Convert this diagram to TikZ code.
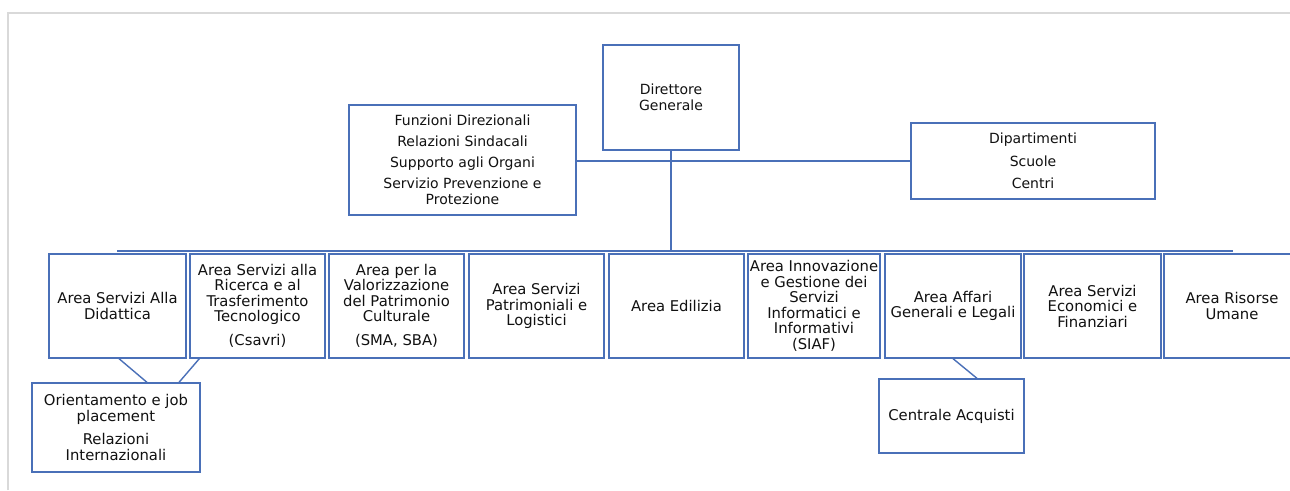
\documentclass[tikz,border=0pt]{standalone}
\usepackage{fontspec}
\setmainfont{DejaVu Sans}
\definecolor{boxblue}{HTML}{4A70B8}
\definecolor{framegray}{HTML}{D9D9D9}
\definecolor{txt}{HTML}{111111}
\tikzset{
  orgbox/.style={draw=boxblue, line width=1.3pt, inner sep=0pt, align=center, text=txt, fill=white},
  topfont/.style={font=\fontsize{14}{16}\selectfont},
  botfont/.style={font=\fontsize{14.8}{15.5}\selectfont},
  link/.style={draw=boxblue, line width=1.4pt}
}
\begin{document}
\begin{tikzpicture}[x=1pt, y=-1pt]
\useasboundingbox (0,0) rectangle (1290,490);
\clip (0,0) rectangle (1290,490);
\fill[white] (0,0) rectangle (1290,490);
% frame
\draw[framegray, line width=2pt] (8.3,490) -- (8.3,13.3) -- (1290,13.3);

% top level
\node[orgbox, topfont, minimum width=136pt, minimum height=105pt] (dg) at (671,97.5) {Direttore\\Generale};
\node[orgbox, topfont, minimum width=227pt, minimum height=110pt] (fz) at (462.5,160) {Funzioni Direzionali\\[5pt]Relazioni Sindacali\\[5pt]Supporto agli Organi\\[5pt]Servizio Prevenzione e\\Protezione};
\node[orgbox, topfont, minimum width=244pt, minimum height=76pt] (dp) at (1033,161) {Dipartimenti\\[6.5pt]Scuole\\[6.5pt]Centri};

% areas
\node[orgbox, botfont, minimum width=137pt, minimum height=104pt] (b1) at (117.5,306) {Area Servizi Alla\\Didattica};
\node[orgbox, botfont, minimum width=135pt, minimum height=104pt] (b2) at (257.5,306) {Area Servizi alla\\Ricerca e al\\Trasferimento\\Tecnologico\\[8.5pt](Csavri)};
\node[orgbox, botfont, minimum width=135pt, minimum height=104pt] (b3) at (396.5,306) {Area per la\\Valorizzazione\\del Patrimonio\\Culturale\\[8.5pt](SMA, SBA)};
\node[orgbox, botfont, minimum width=135pt, minimum height=104pt] (b4) at (536.5,306) {Area Servizi\\Patrimoniali e\\Logistici};
\node[orgbox, botfont, minimum width=135pt, minimum height=104pt] (b5) at (676.5,306) {Area Edilizia};
\node[orgbox, botfont, minimum width=132pt, minimum height=104pt] (b6) at (814,306) {Area Innovazione\\e Gestione dei\\Servizi\\Informatici e\\Informativi\\(SIAF)};
\node[orgbox, botfont, minimum width=136pt, minimum height=104pt] (b7) at (953,306) {Area Affari\\Generali e Legali};
\node[orgbox, botfont, minimum width=137pt, minimum height=104pt] (b8) at (1092.5,306) {Area Servizi\\Economici e\\Finanziari};
\node[orgbox, botfont, minimum width=136pt, minimum height=104pt] (b9) at (1232,306) {Area Risorse\\Umane};

% sub boxes
\node[orgbox, botfont, minimum width=168pt, minimum height=89pt] (or) at (116,427.5) {Orientamento e job\\placement\\[8pt]Relazioni\\Internazionali};
\node[orgbox, botfont, minimum width=145pt, minimum height=74pt] (ce) at (951.5,416) {Centrale Acquisti};

% connectors
\coordinate (busL) at (117,251);
\coordinate (busR) at (1233,251);
\draw[link, line width=1.8pt] (busL) -- (busR);
\draw[link] (dg.south) -- (dg.south |- busL);
\draw[link] (fz.east |- dp.west) -- (dp.west);
\draw[link] ([xshift=1.5pt]b1.south) -- ([xshift=31pt]or.north);
\draw[link] ([xshift=10pt]b2.south west) -- ([xshift=63pt]or.north);
\draw[link] (b7.south) -- ([xshift=25.5pt]ce.north);
\end{tikzpicture}
\end{document}
